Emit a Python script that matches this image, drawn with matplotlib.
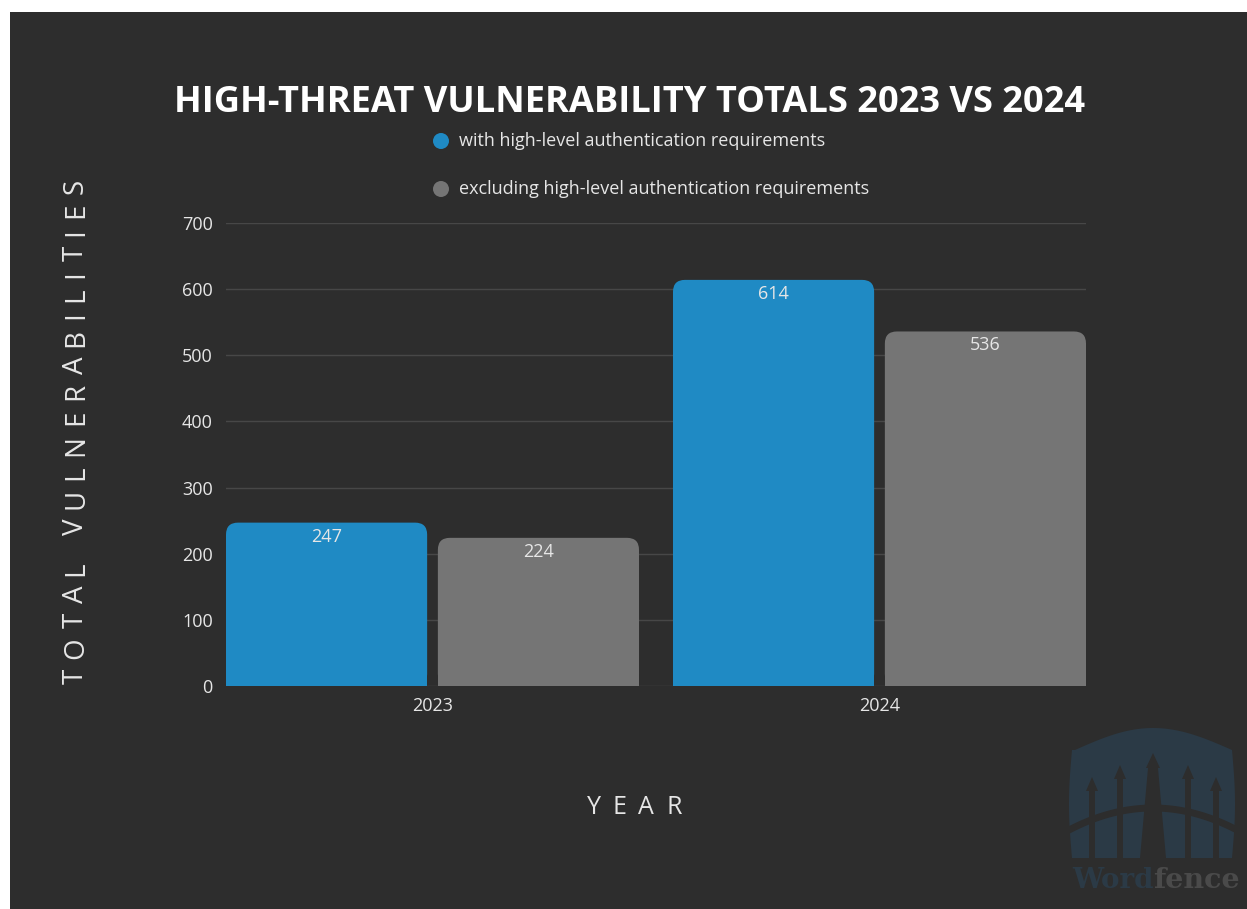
import matplotlib
matplotlib.use("Agg")
import matplotlib.pyplot as plt
from matplotlib.patches import FancyBboxPatch, Rectangle, Polygon, Circle
import numpy as np

years = ["2023", "2024"]
with_auth = [247, 614]
without_auth = [224, 536]
series_labels = [
    "with high-level authentication requirements",
    "excluding high-level authentication requirements",
]
y_ticks = [0, 100, 200, 300, 400, 500, 600, 700]

BG = "#2d2d2d"
BLUE = "#1f8ac4"
GRAY = "#757575"
GRID = "#474747"
TEXT = "#e6e6e6"
SHIELD = "#2b3a46"

W, H = 1247, 909
plt.rcParams["font.family"] = ["Open Sans", "DejaVu Sans"]

fig = plt.figure(figsize=(W / 100, H / 100), dpi=100, facecolor="white")

# dark card behind everything (thin white margin at top/left)
fig.patches.append(Rectangle((10 / W, 0), 1 - 10 / W, 1 - 12 / H,
                             transform=fig.transFigure, facecolor=BG,
                             edgecolor="none", zorder=-10))

# overlay axes in pixel units for legend dots, spaced titles and the logo
px = fig.add_axes([0, 0, 1, 1], zorder=-5)
px.set_xlim(0, W)
px.set_ylim(H, 0)
px.axis("off")
px.patch.set_alpha(0)

ax = fig.add_axes([226 / W, 1 - 686 / H, 860 / W, 463 / H])
ax.set_facecolor("none")
ax.set_xlim(-0.462, 1.462)
ax.set_ylim(0, 700)

bar_w = 0.45
offset = 0.237
x = np.arange(len(years))

# data units per pixel, so the rounded tops stay circular
px_x = 1.924 / 860
px_y = 700 / 463
rx = 12 * px_x
ry = 12 * px_y


def rounded_bar(xc, h, color):
    left = xc - bar_w / 2
    ax.add_patch(FancyBboxPatch((left, 0), bar_w, h,
                                boxstyle=f"round,pad=0,rounding_size={rx}",
                                mutation_aspect=px_y / px_x,
                                facecolor=color, edgecolor="none", zorder=3))
    ax.add_patch(Rectangle((left, 0), bar_w, h - ry, facecolor=color,
                           edgecolor="none", zorder=3))
    ax.text(xc, h - 14 * px_y, f"{h}", ha="center", va="center",
            color=TEXT, fontsize=13, zorder=4)


for xi, a, b in zip(x, with_auth, without_auth):
    rounded_bar(xi - offset, a, BLUE)
    rounded_bar(xi + offset, b, GRAY)

ax.set_yticks(y_ticks)
ax.set_xticks(x)
ax.set_xticklabels(years)
ax.tick_params(axis="both", length=0, colors=TEXT, labelsize=13)
ax.tick_params(axis="y", pad=9.5)
ax.tick_params(axis="x", pad=8)
ax.grid(axis="y", color=GRID, linewidth=1, zorder=0)
for s in ax.spines.values():
    s.set_visible(False)

fig.text(629.5 / W, 1 - 103 / H, "HIGH-THREAT VULNERABILITY TOTALS 2023 VS 2024",
         ha="center", va="center", color="white", fontsize=26.1, fontweight="bold")

# legend
for i, (lab, col) in enumerate(zip(series_labels, [BLUE, GRAY])):
    yy = 141 + 48 * i
    px.add_patch(Circle((441, yy), 8, facecolor=col, edgecolor="none"))
    px.text(459, yy, lab, ha="left", va="center", color=TEXT, fontsize=13)

renderer = fig.canvas.get_renderer()


def tracked_text(cx, cy, s, size, length, vertical=False):
    # letter-spaced text, spread to a given total length in pixels
    widths = []
    for ch in s:
        if ch == " ":
            widths.append(0.26 * size * 100 / 72)
        else:
            t = px.text(0, 0, ch, fontsize=size)
            widths.append(t.get_window_extent(renderer).width)
            t.remove()
    track = (length - sum(widths)) / (len(s) - 1)
    pos = -length / 2
    for ch, w in zip(s, widths):
        c = pos + w / 2
        if ch != " ":
            if vertical:
                px.text(cx, cy - c, ch, rotation=90, ha="center", va="center",
                        fontsize=size, color=TEXT)
            else:
                px.text(cx + c, cy, ch, ha="center", va="center",
                        fontsize=size, color=TEXT)
        pos += w + track


tracked_text(76, 431, "TOTAL VULNERABILITIES", 20, 505, vertical=True)
tracked_text(634, 808, "YEAR", 18, 95)

# watermark logo
t = np.linspace(0, 1, 30)
top_l = np.column_stack([1075 + 78 * t, 750 - 22 * np.sin(t * np.pi / 2)])
top_r = np.column_stack([1153 + 79 * t, 728 + 22 * (1 - np.cos(t * np.pi / 2))])
side_r = np.column_stack([1232 + 3 * np.sin(t * np.pi), 750 + 108 * t])
side_l = np.column_stack([1072 - 3 * np.sin(t * np.pi), 858 - 108 * t])
shield = np.vstack([top_l, top_r, side_r, [[1235, 858], [1072, 858]], side_l])
px.add_patch(Polygon(shield, closed=True, facecolor=SHIELD, edgecolor="none"))
for sx, sy in zip([1092, 1120, 1188, 1216], [777, 765, 765, 777]):
    px.add_patch(Rectangle((sx - 3, sy + 10), 6, 858 - sy - 10, facecolor=BG,
                           edgecolor="none"))
    px.add_patch(Polygon([[sx - 6, sy + 14], [sx, sy], [sx + 6, sy + 14]],
                         facecolor=BG, edgecolor="none"))
px.add_patch(Polygon([[1146, 768], [1153, 753], [1160, 768], [1158, 768],
                      [1166, 858], [1140, 858], [1148, 768]],
                     facecolor=BG, edgecolor="none"))
arc_x = np.linspace(1068, 1239, 60)
arc_y = 808 + 21 * ((arc_x - 1153) / 82) ** 2
px.plot(arc_x, arc_y, color=BG, linewidth=5, solid_capstyle="butt")
px.text(1072, 888, "Word", color=SHIELD, fontsize=20, fontweight="bold",
        family="DejaVu Serif", ha="left", va="baseline")
px.text(1153, 888, "fence", color="#4a4a4a", fontsize=20.5, fontweight="bold",
        family="DejaVu Serif", ha="left", va="baseline")

fig.savefig("out.png", dpi=100, facecolor="white")
